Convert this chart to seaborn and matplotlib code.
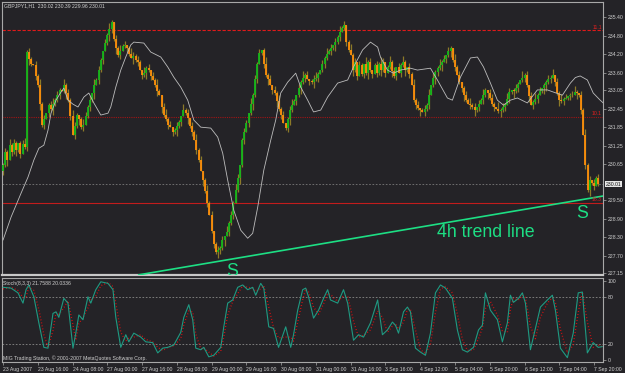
import numpy as np
import pandas as pd
import matplotlib
matplotlib.use("Agg")
import matplotlib.pyplot as plt
import matplotlib.transforms as mtransforms
import seaborn as sns

# ---------------- data ----------------
title = "GBPJPY1,H1  230.02 230.39 229.96 230.01"
stoch_title = "Stoch(8,3,3) 21.7588 20.0336"
copyright_txt = "MIG Trading Station, \u00a9 2001-2007 MetaQuotes Software Corp."

first_open = 230.45
close = [
    230.63, 231.05, 230.80, 231.27, 231.05, 231.35, 231.10, 231.34, 231.00, 231.30,
    231.20, 234.27, 234.05, 233.90, 233.85, 233.50, 233.21, 232.60, 231.92, 232.10,
    232.30, 232.56, 232.45, 232.60, 232.72, 232.90, 233.05, 233.00, 233.21, 232.95,
    232.72, 232.20, 231.59, 231.90, 232.24, 232.10, 231.85, 231.92, 232.20, 232.50,
    232.72, 232.95, 233.20, 233.37, 233.70, 234.01, 234.30, 234.55, 234.82, 235.00,
    235.24, 234.70, 234.40, 234.17, 234.30, 234.45, 234.50, 234.40, 234.20, 234.08,
    234.15, 234.00, 233.95, 233.70, 233.53, 233.60, 233.75, 233.69, 233.50, 233.37,
    233.20, 233.00, 232.88, 232.50, 232.24, 232.10, 231.92, 231.85, 231.70, 231.75,
    231.90, 232.01, 232.20, 232.40, 232.30, 232.14, 231.90, 231.70, 231.43, 231.10,
    230.79, 230.45, 230.14, 229.80, 229.40, 229.01, 228.50, 228.10, 227.82, 227.90,
    227.95, 228.20, 228.35, 228.46, 228.75, 229.01, 229.40, 229.82, 230.20, 230.63,
    231.43, 231.70, 232.00, 232.30, 232.60, 232.88, 233.40, 233.90, 234.25, 234.34,
    233.90, 233.53, 233.40, 233.21, 233.05, 232.95, 232.70, 232.45, 232.24, 232.00,
    231.82, 232.10, 232.40, 232.55, 232.70, 232.88, 233.10, 233.30, 233.45, 233.53,
    233.40, 233.35, 233.30, 233.40, 233.43, 233.55, 233.69, 233.90, 234.08, 234.20,
    234.30, 234.40, 234.50, 234.59, 234.75, 234.92, 235.05, 235.14, 234.60, 234.35,
    234.17, 233.70, 233.95, 233.50, 233.85, 233.55, 233.90, 233.60, 233.95, 233.70,
    233.55, 233.85, 233.60, 233.90, 233.70, 233.95, 233.60, 233.80, 233.95, 233.65,
    233.50, 233.80, 233.60, 233.85, 233.95, 233.70, 233.80, 233.55, 233.20, 232.72,
    232.55, 232.46, 232.40, 232.34, 232.45, 232.56, 232.90, 233.21, 233.45, 233.63,
    233.75, 233.85, 233.95, 234.05, 234.17, 234.30, 234.40, 234.01, 233.80, 233.53,
    233.30, 233.10, 232.90, 232.72, 232.60, 232.56, 232.50, 232.40, 232.50, 232.60,
    232.72, 232.90, 233.05, 232.95, 232.79, 232.60, 232.50, 232.45, 232.38, 232.40,
    232.50, 232.56, 232.75, 232.98, 233.05, 233.00, 233.11, 233.25, 233.37, 233.45,
    233.53, 233.20, 232.85, 232.56, 232.65, 232.75, 232.88, 233.00, 233.11, 233.20,
    233.30, 233.40, 233.45, 233.53, 233.30, 232.95, 232.72, 232.70, 232.75, 232.79,
    232.85, 232.88, 232.90, 232.98, 232.95, 232.88, 232.40, 231.59, 230.63, 229.82,
    230.14, 230.05, 229.95, 230.21, 230.01,
]
# upper / lower wick lengths, one digit per bar (units of wick_unit)
wick_up_digits = (
    "12131 21012 31210 21312 01231"
    "21031 21321 01321 20312 10213"
    "10213 12013 21210 31202 13102"
    "31201 21031 20213 12013 12012"
    "12031 21320 12103 12120 13120"
    "21312 01231 02131 20123 10213"
    "12021 31201 31202 10312 01213"
    "20131 20213 10213 12012 13021"
    "13120 21031 20121 31202 13102"
    "21031 21320 12103 12021 31201"
    "12130 21312 01231 02131 20212"
)
wick_dn_digits = (
    "21302 13120 12310 21312 02131"
    "12013 12021 31201 21302 12013"
    "21312 01210 31202 13120 12031"
    "12021 31201 31202 10312 01213"
    "21302 12013 12021 31201 21302"
    "13120 12310 21312 02131 20121"
    "02131 20121 03120 12131 20213"
    "12013 12021 31201 21302 12013"
    "21302 13120 12310 21312 02131"
    "12013 12021 31201 21302 12013"
    "31202 13120 12103 12021 31201"
)
wick_unit = 0.065

ma_bar = [0, 3.7, 8.3, 11.5, 14.2, 16.5, 18.8, 20.7, 22.1, 24.4, 26.7, 28.0, 29.9, 32.2,
          34.5, 37.2, 39.5, 41.8, 45.0, 48.3, 49.6, 51.9, 54.2, 56.5, 58.8, 60.2, 64.8,
          68.0, 72.6, 75.8, 78.6, 81.8, 85.0, 87.8, 91.0, 95.6, 98.8, 101.1, 103.4, 106.2,
          109.4, 112.6, 114.9, 117.2, 120.0, 123.2, 125.5, 127.8, 131.0, 134.7, 137.0,
          140.2, 142.9, 146.2, 149.4, 154.0, 158.6, 161.3, 165.5, 169.1, 172.4, 173.7,
          176.9, 179.7, 182.9, 187.5, 190.7, 196.7, 199.9, 204.5, 206.8, 210.5, 215.1,
          218.3, 221.1, 224.3, 227.5, 230.3, 233.5, 236.7, 241.3, 245.9, 250.5, 253.3,
          257.4, 261.1, 263.4, 265.6, 268.9, 271.6, 274.8, 276.2]
ma_val = [228.21, 228.95, 229.72, 230.24, 230.79, 231.17, 231.27, 231.75, 232.30, 232.72,
          232.98, 233.11, 232.72, 232.59, 232.50, 232.82, 232.95, 232.63, 232.24, 232.30,
          232.50, 233.14, 233.69, 234.11, 234.50, 234.59, 234.56, 234.27, 234.11, 233.79,
          233.46, 233.14, 232.72, 232.08, 231.85, 231.82, 231.53, 231.01, 230.14, 229.17,
          228.53, 228.27, 228.43, 229.27, 230.46, 231.43, 232.08, 232.95, 233.30, 233.59,
          233.14, 232.72, 232.34, 232.40, 232.82, 233.27, 233.37, 233.79, 234.34, 234.59,
          234.43, 234.11, 233.69, 233.59, 233.69, 233.75, 233.69, 233.75, 233.37, 232.79,
          232.72, 233.46, 234.08, 234.11, 233.79, 233.27, 232.72, 232.56, 232.72, 232.79,
          232.63, 233.05, 233.05, 232.98, 232.88, 233.27, 233.45, 233.50, 233.37, 232.95,
          232.72, 232.63]

k_bar = [0, 3.7, 6.9, 9.2, 10.6, 11.9, 14.2, 16.5, 18.8, 20.7,
         23, 24.4, 25.7, 28, 29.9, 32.2, 33.5, 34.9, 36.8, 39.1,
         40.4, 42.7, 45, 48.3, 50.6, 51.9, 54.2, 56.5, 57.9, 60.2,
         63.4, 65.7, 68.9, 71.2, 73.5, 75.8, 78.6, 81.8, 83.2, 85.5,
         87.3, 88.7, 91, 92.4, 94.7, 97, 100.2, 101.6, 103.4, 105.7,
         108, 110.3, 112.6, 114.9, 116.3, 118.6, 120, 122.3, 124.5, 126.8,
         130.1, 132.4, 133.7, 135.6, 137.9, 139.3, 140.6, 142.9, 145.2, 147.5,
         149.4, 150.7, 154, 156.7, 158.6, 161.3, 163.6, 165.9, 169.1, 172.4,
         174.6, 176.9, 179.2, 180.6, 182, 184.3, 186.1, 187.5, 189.8, 192.1,
         194.4, 196.7, 199, 201.3, 203.6, 206.8, 209.1, 211.4, 213.7, 216.5,
         218.8, 220.6, 222, 224.3, 227.5, 229.8, 232.1, 233.5, 234.9, 237.2,
         239, 240.4, 242.7, 245, 247.3, 250.5, 252.8, 254.2, 256.5, 259.7,
         262.4, 264.7, 266.6, 268.9, 271.6, 273.9, 275.8]
k_val = [92, 91, 85, 72, 89, 95, 80, 47, 16, 15,
         59, 61, 54, 78, 72, 15, 34, 57, 51, 80,
         72, 89, 99, 97, 89, 54, 16, 32, 23, 34,
         29, 23, 22, 9, 15, 16, 19, 35, 54, 70,
         51, 15, 13, 16, 4, 6, 16, 42, 72, 76,
         92, 95, 89, 92, 82, 97, 91, 42, 40, 16,
         42, 16, 32, 63, 89, 91, 80, 53, 63, 78,
         89, 76, 72, 89, 72, 25, 32, 29, 47, 76,
         32, 38, 48, 44, 34, 61, 67, 61, 15, 10,
         6, 34, 85, 95, 91, 78, 38, 13, 10, 16,
         38, 44, 85, 63, 51, 23, 47, 82, 73, 78,
         85, 72, 13, 40, 67, 76, 82, 63, 15, 3,
         34, 85, 86, 9, 22, 16, 17]
d_val = [90, 92, 88, 79, 80, 92, 88, 64, 32, 16,
         37, 60, 58, 66, 75, 44, 25, 46, 54, 66,
         76, 81, 94, 98, 93, 72, 35, 24, 28, 29,
         32, 26, 23, 16, 12, 16, 18, 27, 45, 62,
         61, 33, 14, 15, 10, 5, 11, 29, 57, 74,
         84, 94, 92, 91, 87, 90, 94, 67, 41, 28,
         29, 29, 24, 48, 76, 90, 86, 67, 58, 71,
         84, 83, 74, 81, 81, 49, 29, 31, 38, 62,
         54, 35, 43, 46, 39, 48, 64, 64, 38, 13,
         8, 20, 60, 90, 93, 85, 58, 26, 12, 13,
         27, 41, 65, 74, 57, 37, 35, 65, 78, 76,
         82, 79, 43, 27, 54, 72, 79, 73, 39, 9,
         19, 60, 86, 48, 16, 19, 17]

trend_bar = [62.4, 276.1]
trend_price = [227.09, 229.63]

level_upper = 234.965
level_mid = 232.18
level_support = 229.40
bid_price = 230.01
level_labels = ["11.1", "10.1", "16.3"]

price_ticks = [235.40, 234.80, 234.20, 233.60, 233.05, 232.45, 231.85, 231.25, 230.65,
               229.50, 228.90, 228.30, 227.70, 227.15]
time_tick_bars = [0, 16, 32, 48, 64, 80, 96, 112, 128, 144, 160, 176, 192, 208, 224, 240, 256, 272]
time_labels = ["23 Aug 2007", "23 Aug 16:00", "24 Aug 08:00", "27 Aug 00:00", "27 Aug 16:00",
               "28 Aug 08:00", "29 Aug 00:00", "29 Aug 16:00", "30 Aug 08:00", "31 Aug 00:00",
               "31 Aug 16:00", "3 Sep 16:00", "4 Sep 12:00", "5 Sep 04:00", "5 Sep 20:00",
               "6 Sep 12:00", "7 Sep 04:00", "7 Sep 20:00"]
stoch_ticks = [100, 80, 20, 0]
stoch_levels = [80, 20]

# ---------------- styling ----------------
BG = "#242327"
AXC = "#a8a8a8"
TXT = "#d0d0d0"
GREEN = "#12b81a"
ORANGE = "#ff8f0a"
WICK = "#8c7a28"
TREND = "#1ddf84"
SMALL = 3.7

sns.set_theme(style="dark", rc={"axes.facecolor": BG, "figure.facecolor": BG,
                                "savefig.facecolor": BG, "axes.edgecolor": AXC,
                                "axes.grid": False})
plt.rcParams["font.family"] = ["Liberation Sans", "DejaVu Sans"]

W, H = 625, 373
fig = plt.figure(figsize=(W / 100, H / 100), dpi=100)


def rect(x0, y0, x1, y1):
    return [x0 / W, 1 - y1 / H, (x1 - x0) / W, (y1 - y0) / H]


ax = fig.add_axes(rect(2, 2, 603, 275))
ax2 = fig.add_axes(rect(2, 278, 603, 362))

# ---- candles ----
wu = [int(c) for c in wick_up_digits.replace(" ", "")]
wd = [int(c) for c in wick_dn_digits.replace(" ", "")]
n = len(close)
assert len(wu) >= n and len(wd) >= n, (len(wu), len(wd), n)
df = pd.DataFrame({"bar": np.arange(n), "close": close})
df["open"] = [first_open] + close[:-1]
df["high"] = df[["open", "close"]].max(axis=1) + np.array(wu[:n]) * wick_unit
df["low"] = df[["open", "close"]].min(axis=1) - np.array(wd[:n]) * wick_unit
bull = df["close"] >= df["open"]

ax.vlines(df["bar"], df["low"], df["high"], color=WICK, lw=0.9, zorder=2)
ax.vlines(df.loc[bull, "bar"], df.loc[bull, "open"], df.loc[bull, "close"], color=GREEN, lw=1.3, zorder=3)
ax.vlines(df.loc[~bull, "bar"], df.loc[~bull, "open"], df.loc[~bull, "close"], color=ORANGE, lw=1.3, zorder=3)

# moving average line
sns.lineplot(x=ma_bar, y=ma_val, ax=ax, color="#bdbdbd", lw=0.6, estimator=None, sort=False, zorder=4)

# horizontal levels
ax.axhline(level_upper, color="#e01a1a", lw=0.8, ls=(0, (3, 1.5)), zorder=1)
ax.axhline(level_mid, color="#a01414", lw=0.8, ls=(0, (1, 1)), zorder=1)
ax.axhline(level_support, color="#c21c1c", lw=0.8, zorder=1)
ax.axhline(bid_price, color="#7a7a7a", lw=0.6, ls=(0, (2, 2)), zorder=1)

# trend line
sns.lineplot(x=trend_bar, y=trend_price, ax=ax, color=TREND, lw=1.2, zorder=5)

ax.set_xlim(-0.46, 276.1)
ax.set_ylim(227.086, 235.883)

# annotations
ax.text(199.7, 228.44, "4h trend line", color=TREND, fontsize=12.8, va="center", ha="left", zorder=6)
ax.text(105.4, 227.21, "S", color=TREND, fontsize=12.8, va="center", ha="center", clip_on=True, zorder=6)
ax.text(266.5, 229.08, "S", color=TREND, fontsize=12.8, va="center", ha="center", zorder=6)
for lv, lab in zip([level_upper, level_mid, level_support], level_labels):
    ax.text(275.6, lv + 0.03, lab, color="#e02020", fontsize=SMALL, ha="right", va="bottom", zorder=6)

# price axis on the right
ax.yaxis.tick_right()
ax.set_yticks(price_ticks)
ax.set_yticklabels([f"{p:.2f}" for p in price_ticks])
ax.tick_params(axis="y", colors=AXC, labelcolor=TXT, labelsize=SMALL, length=2, width=0.5, pad=1.5, right=True, left=False)
ax.tick_params(axis="x", bottom=False, labelbottom=False)
ax.set_xlabel("")
ax.set_ylabel("")
blend = mtransforms.blended_transform_factory(ax.transAxes, ax.transData)
ax.text(1.004, bid_price, f"{bid_price:.2f}", transform=blend, color="#111111", fontsize=SMALL,
        va="center", ha="left", clip_on=False,
        bbox=dict(facecolor="#e6e6e6", edgecolor="none", pad=0.5))

for s in ax.spines.values():
    s.set_color(AXC)
    s.set_linewidth(0.8)
ax.spines["bottom"].set_color("#c8c8c8")
ax.spines["bottom"].set_linewidth(1.6)

# ---- stochastic panel ----
for lv in stoch_levels:
    ax2.axhline(lv, color="#8a8a8a", lw=0.6, ls=(0, (2, 2)), zorder=1)
sns.lineplot(x=k_bar, y=d_val, ax=ax2, color="#e01010", lw=1.0, ls=(0, (0.6, 1.6)), estimator=None, zorder=2)
sns.lineplot(x=k_bar, y=k_val, ax=ax2, color="#1f9a82", lw=0.8, estimator=None, zorder=3)
ax2.set_xlim(-0.46, 276.1)
ax2.set_ylim(-2.53, 103.8)
ax2.yaxis.tick_right()
ax2.set_yticks(stoch_ticks)
ax2.set_yticklabels([str(t) for t in stoch_ticks])
ax2.set_xticks(time_tick_bars)
ax2.set_xticklabels(time_labels, ha="left")
ax2.tick_params(axis="both", colors=AXC, labelcolor=TXT, labelsize=SMALL, length=2, width=0.5, pad=1.5)
ax2.tick_params(axis="y", right=True, left=False)
ax2.tick_params(axis="x", bottom=True)
ax2.set_xlabel("")
ax2.set_ylabel("")
for s in ax2.spines.values():
    s.set_color(AXC)
    s.set_linewidth(0.8)

# ---- texts ----
fig.text(4 / W, 1 - 6 / H, title, color=TXT, fontsize=SMALL, va="center", ha="left")
fig.text(3 / W, 1 - 283 / H, stoch_title, color=TXT, fontsize=SMALL, va="center", ha="left")
fig.text(3 / W, 1 - 358 / H, copyright_txt, color=TXT, fontsize=SMALL, va="center", ha="left")

fig.savefig("out.png", dpi=100, facecolor=BG)
